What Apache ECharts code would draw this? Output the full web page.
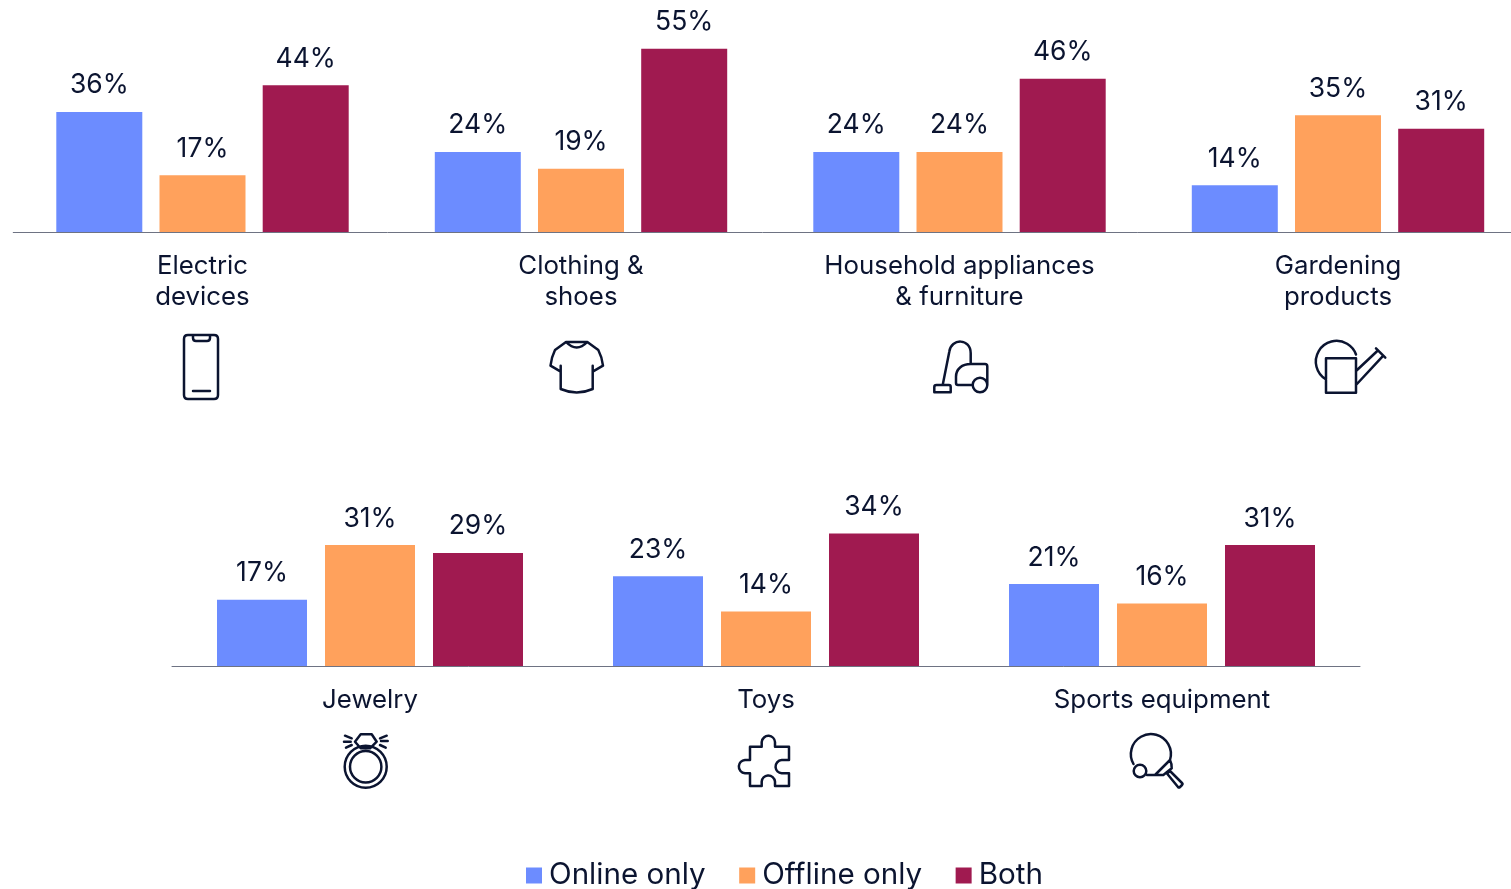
<!DOCTYPE html>
<html>
<head>
<meta charset="utf-8">
<style>html,body{margin:0;padding:0;background:#fff}#c{width:1511px;height:889px}</style>
<script src="https://cdn.jsdelivr.net/npm/echarts@6/dist/echarts.min.js"></script>
</head>
<body>
<div id="c"></div>
<script>
// Channel share by product category, in percent
const seriesNames = ['Online only', 'Offline only', 'Both'];
const colors = ['#6C8CFF', '#FFA15C', '#A01A50'];

const topCategories = ['Electric\ndevices', 'Clothing &\nshoes', 'Household appliances\n& furniture', 'Gardening\nproducts'];
const topOnline = [36, 24, 24, 14];
const topOffline = [17, 19, 24, 35];
const topBoth = [44, 55, 46, 31];

const bottomCategories = ['Jewelry', 'Toys', 'Sports equipment'];
const bottomOnline = [17, 23, 21];
const bottomOffline = [31, 14, 16];
const bottomBoth = [29, 34, 31];

const ink = '#0B1430';
const font = 'Inter';

// Outline pictograms under the category names
const icons = [
  'M188 335H214Q218 335 218 339V395Q218 399 214 399H188Q184 399 184 395V339Q184 335 188 335Z M193 335V338Q193 341 196 341H207Q210 341 210 338V335 M193 391H210',
  'M566 342Q576.7 353 587.3 342L598.3 350Q602 357 603 365.7L592.7 371.7M592.7 365.7V389Q576.7 396 560.7 389V365.7M560.7 371.7L550.5 365.7Q551.5 357 555 350L566 342H587.3',
  'M942.7 385L949.3 351.7C951 338 970.7 338 970.7 353.3V364M972.7 385H958Q956 385 956 383V376.7C956 369 962 364 970.7 364H985Q987.3 364 987.3 366.5V385M934.3 392.3V387Q934.3 385 936.5 385H949Q950.7 385 950.7 387V392.3ZM987.3 385A7.3 7.3 0 1 1 972.7 385A7.3 7.3 0 1 1 987.3 385Z',
  'M1326 379.4A20.7 20.7 0 1 1 1356 354.5M1326 358.3H1356V392.7H1326ZM1356 371L1377.3 351M1356 385L1383.3 355.7M1376 348.3L1385.3 357.7',
  'M386.7 766.7A21 21 0 1 1 344.7 766.7A21 21 0 1 1 386.7 766.7ZM381.4 766.7A15.7 15.7 0 1 1 350 766.7A15.7 15.7 0 1 1 381.4 766.7ZM360.7 748.3L355 741.7L360.7 734.3H371.7L376.7 741.7L370 748.3ZM345 735.7L351.7 738.3M344 741.7H350.7M346 747.7L351.7 745M386.7 735.7L380 738.3M387.7 741H381M385.7 747.7L380 745',
  'M750 746.7H761.7V742A6.67 6.67 0 0 1 775 742V746.7H789V760H781.7A6.67 6.67 0 0 0 781.7 773.3H789V786H775V781.7A6.67 6.67 0 0 0 761.7 781.7V786H750V773.3H745A6.67 6.67 0 0 1 745 760H750Z',
  'M1133.5 764A20 20 0 1 1 1170 760L1155 775H1147M1170 760Q1172 764 1171.7 768.3L1163.3 775H1155M1146.3 771A6.3 6.3 0 1 1 1133.7 771A6.3 6.3 0 1 1 1146.3 771ZM1167 773.5L1170 771L1182 783Q1183 784 1182 785L1180 787Q1179 788 1178 787Z'
];

function barSeries(values, i, axisIndex) {
  return {
    type: 'bar',
    name: seriesNames[i],
    xAxisIndex: axisIndex,
    yAxisIndex: axisIndex,
    data: values,
    barWidth: axisIndex === 0 ? 86 : 90,
    barGap: '20%',
    itemStyle: { color: colors[i] },
    label: {
      show: true,
      position: 'top',
      distance: 13,
      formatter: '{c}%',
      fontFamily: font,
      fontSize: 26.5,
      color: ink
    },
    silent: true
  };
}

function categoryAxis(data, gridIndex) {
  return {
    type: 'category',
    gridIndex,
    data,
    axisLine: { lineStyle: { color: '#6E7383', width: 1 } },
    axisTick: { show: false },
    axisLabel: {
      interval: 0,
      margin: 19,
      fontFamily: font,
      fontSize: 25.8,
      lineHeight: 31,
      color: ink
    }
  };
}

function valueAxis(max, gridIndex) {
  return { type: 'value', gridIndex, min: 0, max, show: false };
}

const iconSeries = {
  type: 'custom',
  coordinateSystem: 'none',
  silent: true,
  data: icons.map((_, i) => i),
  renderItem: (params) => ({
    type: 'path',
    shape: { pathData: icons[params.dataIndex] },
    style: { fill: 'none', stroke: ink, lineWidth: 2.5, lineCap: 'round', lineJoin: 'round' }
  })
};

const chart = echarts.init(document.getElementById('c'), null, { renderer: 'canvas' });
chart.setOption({
  animation: false,
  backgroundColor: '#fff',
  grid: [
    { left: 13.25, top: 32, width: 1514, height: 200, outerBoundsMode: 'none' },
    { left: 172, top: 510, width: 1188, height: 156, outerBoundsMode: 'none' }
  ],
  xAxis: [categoryAxis(topCategories, 0), categoryAxis(bottomCategories, 1)],
  yAxis: [valueAxis(60, 0), valueAxis(40, 1)],
  legend: {
    data: seriesNames,
    left: 521,
    top: 855.5,
    icon: 'rect',
    itemWidth: 16,
    itemHeight: 16,
    itemGap: 33.5,
    textStyle: { fontFamily: font, fontSize: 29.6, color: ink, padding: [0, 0, 0, 2] },
    selectedMode: false
  },
  series: [
    barSeries(topOnline, 0, 0),
    barSeries(topOffline, 1, 0),
    barSeries(topBoth, 2, 0),
    barSeries(bottomOnline, 0, 1),
    barSeries(bottomOffline, 1, 1),
    barSeries(bottomBoth, 2, 1),
    iconSeries
  ]
});
</script>
</body>
</html>
